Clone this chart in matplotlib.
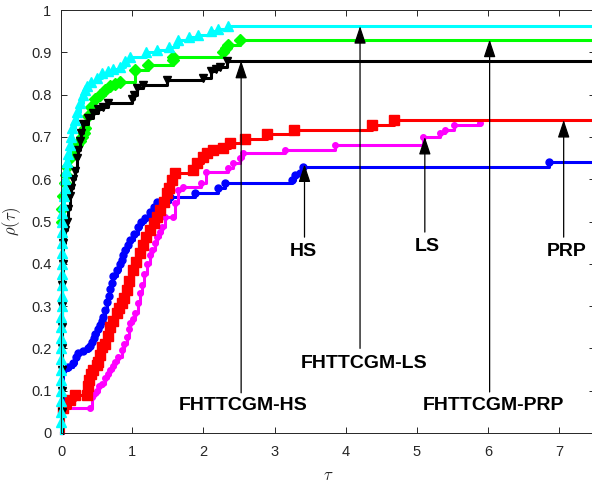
import matplotlib
matplotlib.use("Agg")
import matplotlib.pyplot as plt

plt.rcParams["font.family"] = ["Liberation Sans", "DejaVu Sans"]
plt.rcParams["mathtext.fontset"] = "cm"

TAU_MAX = 7.5

# FHTTCGM-LS (cyan)
ls_new_tau = [0.00, 0.00, 0.00, 0.00, 0.00, 0.00, 0.00, 0.00, 0.00, 0.00, 0.00, 0.00, 0.01,
              0.01, 0.01, 0.01, 0.01, 0.01, 0.02, 0.02, 0.02, 0.02, 0.03, 0.04, 0.05, 0.06,
              0.07, 0.08, 0.10, 0.12, 0.14, 0.16, 0.19, 0.23, 0.27, 0.31, 0.34, 0.36, 0.42,
              0.50, 0.58, 0.66, 0.73, 0.83, 0.90, 0.97, 1.20, 1.35, 1.51, 1.65, 1.80, 1.93,
              2.10, 2.21, 2.35]
ls_new_rho = [0.00, 0.025, 0.05, 0.075, 0.10, 0.125, 0.15, 0.175, 0.20, 0.225, 0.25, 0.275,
              0.30, 0.325, 0.35, 0.375, 0.40, 0.425, 0.45, 0.475, 0.50, 0.52, 0.54, 0.56, 0.58,
              0.60, 0.62, 0.64, 0.66, 0.68, 0.70, 0.72, 0.74, 0.76, 0.78, 0.80, 0.81, 0.82,
              0.83, 0.84, 0.85, 0.855, 0.86, 0.866, 0.88, 0.89, 0.90, 0.905, 0.913, 0.929,
              0.935, 0.94, 0.95, 0.955, 0.962]

# FHTTCGM-PRP (green)
prp_new_tau = [0.00, 0.01, 0.02, 0.03, 0.05, 0.07, 0.09, 0.12, 0.15, 0.18, 0.22, 0.26, 0.30,
               0.33, 0.34, 0.38, 0.42, 0.48, 0.55, 0.62, 0.69, 0.76, 0.83, 1.04, 1.22, 1.58,
               1.58, 2.28, 2.32, 2.35, 2.52]
prp_new_rho = [0.00, 0.50, 0.53, 0.56, 0.59, 0.61, 0.63, 0.65, 0.66, 0.67, 0.68, 0.69, 0.70,
               0.71, 0.72, 0.75, 0.77, 0.79, 0.80, 0.81, 0.82, 0.825, 0.83, 0.858, 0.87, 0.882,
               0.89, 0.90, 0.91, 0.917, 0.93]

# FHTTCGM-HS (black)
hs_new_tau = [0.015, 0.015, 0.015, 0.015, 0.02, 0.02, 0.02, 0.02, 0.025, 0.03, 0.05, 0.08,
              0.10, 0.12, 0.14, 0.17, 0.20, 0.22, 0.24, 0.26, 0.28, 0.31, 0.38, 0.45, 0.52,
              0.59, 0.66, 1.00, 1.02, 1.07, 1.15, 1.49, 2.00, 2.10, 2.17, 2.24, 2.33]
hs_new_rho = [0.00, 0.05, 0.10, 0.15, 0.20, 0.25, 0.30, 0.35, 0.40, 0.45, 0.48, 0.50, 0.53,
              0.56, 0.58, 0.60, 0.62, 0.65, 0.67, 0.69, 0.71, 0.73, 0.745, 0.756, 0.765, 0.77,
              0.78, 0.79, 0.80, 0.816, 0.823, 0.835, 0.84, 0.855, 0.86, 0.866, 0.88]

# HS (blue)
hs_tau = [0.00, 0.03, 0.10, 0.17, 0.21, 0.24, 0.31, 0.38, 0.41, 0.44, 0.46, 0.48, 0.52, 0.55,
          0.57, 0.59, 0.62, 0.65, 0.67, 0.69, 0.71, 0.73, 0.78, 0.83, 0.85, 0.87, 0.90, 0.94,
          0.97, 1.02, 1.08, 1.13, 1.18, 1.25, 1.30, 1.35, 1.53, 1.88, 2.20, 2.30, 3.25, 3.29,
          3.35, 3.40, 6.85]
hs_rho = [0.00, 0.15, 0.155, 0.165, 0.18, 0.19, 0.195, 0.20, 0.205, 0.215, 0.225, 0.235,
          0.245, 0.255, 0.265, 0.275, 0.29, 0.31, 0.325, 0.34, 0.355, 0.37, 0.385, 0.40, 0.41,
          0.42, 0.433, 0.445, 0.456, 0.47, 0.487, 0.50, 0.508, 0.523, 0.535, 0.547, 0.558,
          0.567, 0.579, 0.59, 0.598, 0.61, 0.615, 0.63, 0.64]

# PRP (red)
prp_tau = [0.00, 0.03, 0.13, 0.20, 0.36, 0.38, 0.39, 0.42, 0.45, 0.50, 0.52, 0.55, 0.58, 0.62,
           0.66, 0.69, 0.73, 0.78, 0.82, 0.86, 0.89, 0.92, 0.96, 1.01, 1.06, 1.11, 1.15, 1.20,
           1.25, 1.30, 1.35, 1.39, 1.44, 1.49, 1.52, 1.56, 1.60, 1.86, 1.91, 2.00, 2.05, 2.14,
           2.28, 2.38, 2.59, 2.90, 3.27, 4.37, 4.67]
prp_rho = [0.00, 0.06, 0.078, 0.09, 0.09, 0.11, 0.125, 0.14, 0.15, 0.16, 0.168, 0.185, 0.203,
           0.21, 0.23, 0.25, 0.265, 0.283, 0.295, 0.307, 0.32, 0.338, 0.36, 0.385, 0.405, 0.425,
           0.445, 0.463, 0.48, 0.496, 0.51, 0.527, 0.547, 0.567, 0.58, 0.598, 0.614, 0.622,
           0.638, 0.653, 0.662, 0.669, 0.673, 0.686, 0.695, 0.707, 0.716, 0.728, 0.74]

# LS (magenta)
ls_tau = [0.00, 0.03, 0.41, 0.43, 0.47, 0.50, 0.54, 0.57, 0.62, 0.66, 0.69, 0.73, 0.76, 0.80,
          0.86, 0.89, 0.93, 0.95, 0.97, 1.01, 1.04, 1.08, 1.11, 1.14, 1.17, 1.21, 1.25, 1.28,
          1.32, 1.35, 1.39, 1.42, 1.46, 1.58, 1.60, 1.65, 1.72, 1.96, 2.03, 2.35, 2.42, 2.52,
          2.56, 3.15, 3.85, 5.08, 5.33, 5.40, 5.52, 5.89]
ls_rho = [0.00, 0.06, 0.06, 0.085, 0.092, 0.10, 0.11, 0.117, 0.13, 0.14, 0.149, 0.158, 0.168,
          0.18, 0.196, 0.21, 0.227, 0.245, 0.26, 0.27, 0.283, 0.307, 0.33, 0.35, 0.375, 0.40,
          0.42, 0.433, 0.45, 0.463, 0.475, 0.487, 0.51, 0.51, 0.543, 0.574, 0.582, 0.59, 0.617,
          0.626, 0.638, 0.65, 0.662, 0.668, 0.68, 0.70, 0.709, 0.716, 0.728, 0.733]

# labels: (text, arrow tip, arrow tail, text position)
labels = [
    ("HS", (3.42, 0.635), (3.42, 0.463), (3.40, 0.428)),
    ("LS", (5.11, 0.70), (5.11, 0.475), (5.15, 0.442)),
    ("PRP", (7.06, 0.74), (7.06, 0.463), (7.10, 0.430)),
    ("FHTTCGM-LS", (4.20, 0.962), (4.20, 0.20), (4.25, 0.165)),
    ("FHTTCGM-PRP", (6.02, 0.93), (6.02, 0.097), (6.08, 0.066)),
    ("FHTTCGM-HS", (2.53, 0.88), (2.53, 0.095), (2.56, 0.064)),
]


def draw_curve(ax, tau, rho, color, marker, ms, extend=True):
    x = list(tau)
    y = list(rho)
    if extend:
        x = x + [TAU_MAX]
        y = y + [y[-1]]
    ax.plot(x, y, drawstyle="steps-post", color=color, lw=2.2,
            marker=marker, ms=ms, markevery=list(range(1, len(tau))),
            mec=color, mfc=color, clip_on=False)


def main() -> None:
    fig = plt.figure(figsize=(5.92, 4.87), dpi=100)
    ax = fig.add_axes([61 / 592, 54 / 487, 534 / 592, 423 / 487])

    draw_curve(ax, hs_tau, hs_rho, (0, 0, 1), "o", 5)
    draw_curve(ax, ls_tau, ls_rho, (1, 0, 1), "o", 4, extend=False)
    draw_curve(ax, prp_tau, prp_rho, (1, 0, 0), "s", 6.5)
    draw_curve(ax, prp_new_tau, prp_new_rho, (0, 1, 0), "D", 6)
    draw_curve(ax, hs_new_tau, hs_new_rho, (0, 0, 0), "v", 6)
    draw_curve(ax, ls_new_tau, ls_new_rho, (0, 1, 1), "^", 7)

    for text, tip, tail, pos in labels:
        ax.annotate("", xy=tip, xytext=tail,
                    arrowprops=dict(arrowstyle="-|>,head_length=0.9,head_width=0.3",
                                    color="black", lw=0.9, shrinkA=0, shrinkB=0,
                                    mutation_scale=12))
        ax.text(pos[0], pos[1], text, ha="center", va="center",
                fontsize=14, fontweight="bold")

    ax.set_xlim(0, TAU_MAX)
    ax.set_ylim(0, 1)
    ax.set_xticks(range(0, 8))
    ax.set_yticks([i / 10 for i in range(11)])
    ax.set_yticklabels(["0", "0.1", "0.2", "0.3", "0.4", "0.5", "0.6", "0.7", "0.8", "0.9", "1"])
    ax.tick_params(direction="in", length=4, width=0.7, top=True, right=True,
                   labelsize=10.5, colors=(0.15, 0.15, 0.15))
    ax.tick_params(axis="y", pad=7)
    ax.tick_params(axis="x", pad=9)
    for spine in ax.spines.values():
        spine.set_linewidth(0.7)
        spine.set_color((0.15, 0.15, 0.15))

    ax.set_xlabel(r"$\tau$", fontsize=12, color=(0.15, 0.15, 0.15), labelpad=6)
    ax.set_ylabel(r"$\rho(\tau)$", fontsize=12, color=(0.15, 0.15, 0.15), labelpad=6)

    fig.savefig("out.png", dpi=100)
    plt.close(fig)


if __name__ == "__main__":
    main()
